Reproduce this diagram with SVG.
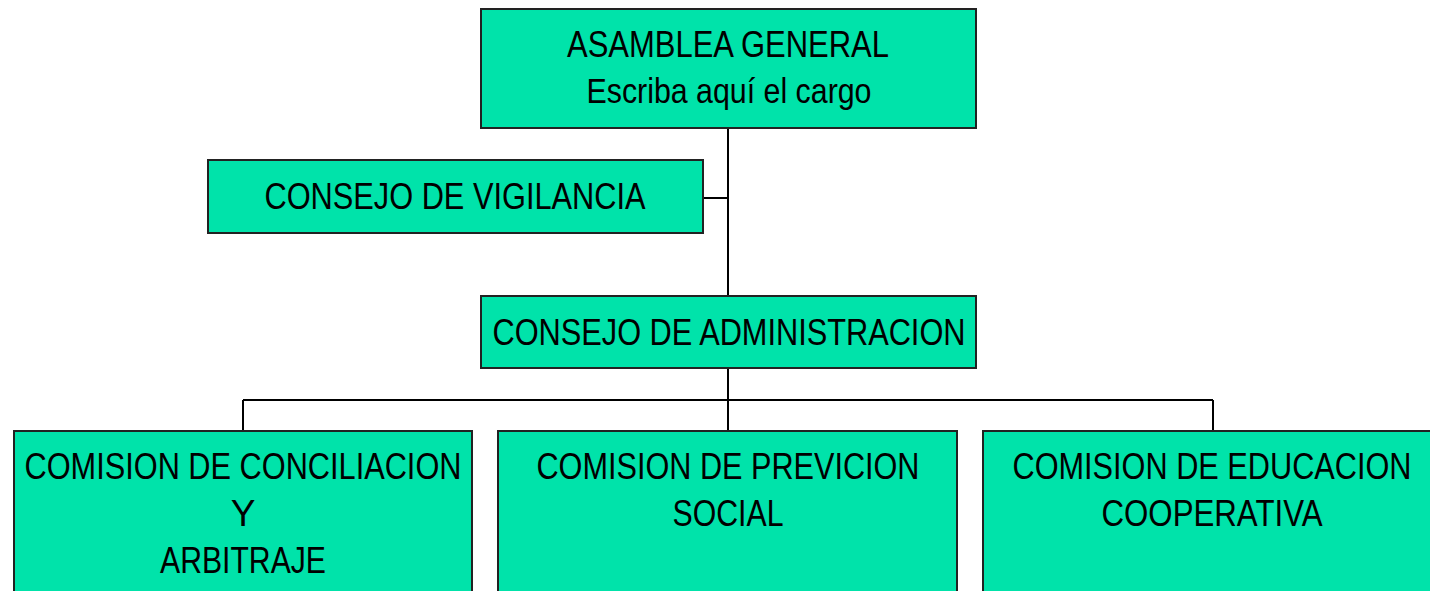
<svg xmlns="http://www.w3.org/2000/svg" width="1430" height="591" viewBox="0 0 1430 591">
<style>
.box{fill:#00E3AA;stroke:#222;stroke-width:2}
.t{font-family:"Liberation Sans",Arial,sans-serif;font-size:37px;fill:#000;text-anchor:middle}
.c{stroke:#000;stroke-width:2;fill:none}
</style>
<rect width="1430" height="591" fill="#fff"/>
<g id="connectors">
<path class="c" d="M728 128V296M703 198H728M728 368V400M243 400H1213M243 400V431M728 400V431M1213 400V431"/>
</g>
<g id="asamblea">
<rect class="box" x="481" y="9" width="495" height="119"/>
<text class="t" x="728" y="57" textLength="322" lengthAdjust="spacingAndGlyphs">ASAMBLEA GENERAL</text>
<text class="t" x="729" y="103" style="font-size:35px" textLength="285" lengthAdjust="spacingAndGlyphs">Escriba aquí el cargo</text>
</g>
<g id="vigilancia">
<rect class="box" x="208" y="160" width="495" height="73"/>
<text class="t" x="455" y="209" textLength="381" lengthAdjust="spacingAndGlyphs">CONSEJO DE VIGILANCIA</text>
</g>
<g id="administracion">
<rect class="box" x="481" y="296" width="495" height="72"/>
<text class="t" x="729" y="345" textLength="473" lengthAdjust="spacingAndGlyphs">CONSEJO DE ADMINISTRACION</text>
</g>
<g id="conciliacion">
<rect class="box" x="14" y="431" width="458" height="170"/>
<text class="t" x="243" y="479" textLength="437" lengthAdjust="spacingAndGlyphs">COMISION DE CONCILIACION</text>
<text class="t" x="243" y="526">Y</text>
<text class="t" x="243" y="573" textLength="166" lengthAdjust="spacingAndGlyphs">ARBITRAJE</text>
</g>
<g id="prevision">
<rect class="box" x="498" y="431" width="459" height="170"/>
<text class="t" x="728" y="479" textLength="383" lengthAdjust="spacingAndGlyphs">COMISION DE PREVICION</text>
<text class="t" x="728" y="526" textLength="111" lengthAdjust="spacingAndGlyphs">SOCIAL</text>
</g>
<g id="educacion">
<rect class="box" x="983" y="431" width="460" height="170"/>
<text class="t" x="1212" y="479" textLength="399" lengthAdjust="spacingAndGlyphs">COMISION DE EDUCACION</text>
<text class="t" x="1212" y="526" textLength="221" lengthAdjust="spacingAndGlyphs">COOPERATIVA</text>
</g>
</svg>
